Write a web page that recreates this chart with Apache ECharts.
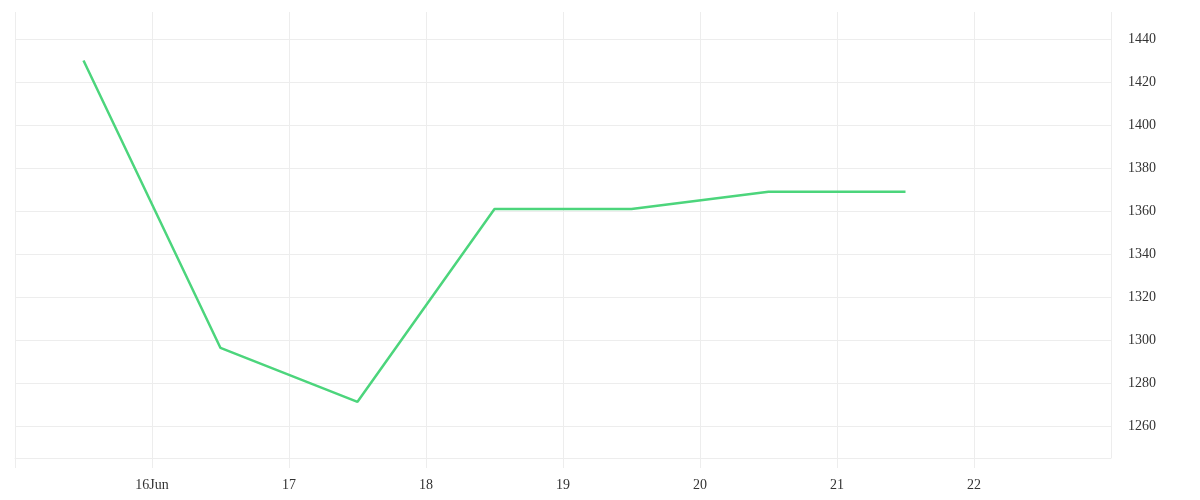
<!DOCTYPE html>
<html>
<head>
<meta charset="utf-8">
<script src="https://cdn.jsdelivr.net/npm/echarts@6/dist/echarts.min.js"></script>
<style>html,body{margin:0;padding:0;background:#fff}#c{width:1200px;height:500px}</style>
</head>
<body>
<div id="c"></div>
<script>
// Data (local dates, points at noon)
var pointDates = ['2024-06-15 12:00','2024-06-16 12:00','2024-06-17 12:00','2024-06-18 12:00','2024-06-19 12:00','2024-06-20 12:00','2024-06-21 12:00'];
var seriesValues = [1430, 1296.5, 1271.5, 1361, 1361, 1369, 1369];
var tickDays = [16, 17, 18, 19, 20, 21, 22];
var tickLabels = ['16Jun', '17', '18', '19', '20', '21', '22'];
var yTickLabels = [1260, 1280, 1300, 1320, 1340, 1360, 1380, 1400, 1420, 1440];

function parseLocal(s){
  var p = s.split(/[- :]/).map(Number);
  return new Date(p[0], p[1]-1, p[2], p[3], p[4]).getTime();
}
var DAY = 86400000;
var xMin = new Date(2024,5,15).getTime();
var xMax = new Date(2024,5,23).getTime();
var data = pointDates.map(function(d,i){ return [parseLocal(d), seriesValues[i]]; });

var gridColor = '#ededed';
var font = 'Liberation Serif';
var chart = echarts.init(document.getElementById('c'));
chart.setOption({
  animation: false,
  grid: { left: 15, right: 89, top: 12, bottom: 42, containLabel: false },
  xAxis: {
    type: 'time',
    min: xMin, max: xMax,
    minInterval: DAY, maxInterval: DAY,
    axisLine: { show: true, lineStyle: { color: gridColor, width: 1 } },
    axisTick: { show: true, length: 10, lineStyle: { color: gridColor } },
    splitLine: { show: true, lineStyle: { color: gridColor, width: 1 } },
    axisLabel: {
      color: '#333', fontFamily: font, fontSize: 14, margin: 20,
      showMinLabel: false, showMaxLabel: false,
      formatter: function(v){
        var d = new Date(v);
        if (d.getHours() !== 0) return '';
        var i = tickDays.indexOf(d.getDate());
        return i >= 0 ? tickLabels[i] : '';
      }
    }
  },
  yAxis: {
    type: 'value',
    position: 'right',
    min: 1245.4, max: 1452.5,
    splitNumber: 10,
    axisLine: { show: false },
    axisTick: { show: false },
    splitLine: { show: true, showMaxLine: false, lineStyle: { color: gridColor, width: 1 } },
    axisLabel: {
      color: '#333', fontFamily: font, fontSize: 14, margin: 17,
      padding: [4, 0, 0, 0],
      showMinLabel: false, showMaxLabel: false,
      formatter: function(v){ return yTickLabels.indexOf(v) >= 0 ? String(v) : ''; }
    }
  },
  series: [{
    type: 'line',
    data: data,
    showSymbol: false,
    symbol: 'none',
    lineStyle: { color: '#4cd57c', width: 2.5 },
    itemStyle: { color: '#4cd57c' }
  }]
});
</script>
</body>
</html>
